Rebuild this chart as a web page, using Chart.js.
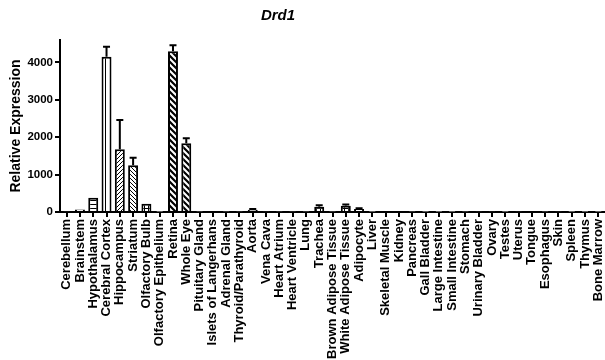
<!DOCTYPE html>
<html>
<head>
<meta charset="utf-8">
<script src="https://cdn.jsdelivr.net/npm/chart.js@4/dist/chart.umd.min.js"></script>
<style>
  html, body { margin: 0; padding: 0; background: #fff; }
  #wrap { width: 605px; height: 360px; }
</style>
</head>
<body>
<div id="wrap"><canvas id="chart"></canvas></div>
<script>
const tissues = ['Cerebellum', 'Brainstem', 'Hypothalamus', 'Cerebral Cortex', 'Hippocampus', 'Striatum',
    'Olfactory Bulb', 'Olfactory Epithelium', 'Retina', 'Whole Eye', 'Pituitary Gland', 'Islets of Langerhans',
    'Adrenal Gland', 'Thyroid/Parathyroid', 'Aorta', 'Vena Cava', 'Heart Atrium', 'Heart Ventricle', 'Lung',
    'Trachea', 'Brown Adipose Tissue', 'White Adipose Tissue', 'Adipocyte', 'Liver', 'Skeletal Muscle', 'Kidney',
    'Pancreas', 'Gall Bladder', 'Large Intestine', 'Small Intestine', 'Stomach', 'Urinary Bladder', 'Ovary',
    'Testes', 'Uterus', 'Tongue', 'Esophagus', 'Skin', 'Spleen', 'Thymus', 'Bone Marrow'];

const expression = [20, 70, 380, 4150, 1680, 1250, 220, 5, 4300, 1840, 8, 25,
    8, 15, 60, 20, 15, 15, 10, 140, 10, 170, 80, 5, 25, 25,
    8, 5, 5, 5, 8, 20, 20, 5, 20, 25, 10, 20, 5, 5, 5];

const errorUp = [0, 0, 0, 270, 780, 200, 0, 0, 160, 130, 0, 0,
    0, 0, 20, 0, 0, 0, 0, 40, 0, 30, 20, 0, 0, 0,
    0, 0, 0, 0, 0, 0, 0, 0, 0, 0, 0, 0, 0, 0, 0];

// fill style per bar
const fills = ['plain', 'plain', 'hlines', 'vlines', 'thinUp', 'thinDown', 'grid', 'plain', 'thickDown', 'thickDown', 'plain', 'plain',
    'plain', 'plain', 'plain', 'plain', 'plain', 'plain', 'plain', 'grid', 'plain', 'grid', 'hlines', 'plain', 'plain', 'plain',
    'plain', 'plain', 'plain', 'plain', 'plain', 'plain', 'plain', 'plain', 'plain', 'plain', 'plain', 'plain', 'plain', 'plain', 'plain'];

const yTicks = [0, 1000, 2000, 3000, 4000];

function makePattern(kind) {
    if (kind === 'plain') return '#ffffff';
    const c = document.createElement('canvas');
    const s = (kind === 'thickDown') ? 6 : 4;
    c.width = s; c.height = s;
    const g = c.getContext('2d');
    g.fillStyle = '#fff';
    g.fillRect(0, 0, s, s);
    g.strokeStyle = '#000';
    g.fillStyle = '#000';
    if (kind === 'hlines') {
        g.fillRect(0, 0, s, 1);
    } else if (kind === 'vlines') {
        c.width = 5; c.height = 4;
        g.fillStyle = '#fff'; g.fillRect(0, 0, 5, 4);
        g.fillStyle = '#000'; g.fillRect(0, 0, 1, 4);
    } else if (kind === 'grid') {
        g.fillRect(0, 0, s, 1);
        g.fillRect(0, 0, 1, s);
    } else {
        g.lineWidth = kind === 'thickDown' ? 2.2 : 1;
        g.beginPath();
        if (kind === 'thinUp') {
            g.moveTo(-1, s + 1); g.lineTo(s + 1, -1);
            g.moveTo(-1, 1); g.lineTo(1, -1);
            g.moveTo(s - 1, s + 1); g.lineTo(s + 1, s - 1);
        } else {
            g.moveTo(-1, -1); g.lineTo(s + 1, s + 1);
            g.moveTo(s - 1, -1); g.lineTo(s + 1, 1);
            g.moveTo(-1, s - 1); g.lineTo(1, s + 1);
        }
        g.stroke();
    }
    return g.createPattern(c, 'repeat');
}

const errorBars = {
    id: 'errorBars',
    afterDatasetsDraw(chart) {
        const ctx = chart.ctx;
        const meta = chart.getDatasetMeta(0);
        const y = chart.scales.y;
        ctx.save();
        ctx.strokeStyle = '#000';
        ctx.lineWidth = 2;
        meta.data.forEach((bar, i) => {
            if (!errorUp[i]) return;
            const top = y.getPixelForValue(expression[i]);
            const cap = y.getPixelForValue(expression[i] + errorUp[i]);
            ctx.beginPath();
            ctx.moveTo(bar.x, top);
            ctx.lineTo(bar.x, cap);
            ctx.moveTo(bar.x - 3.5, cap);
            ctx.lineTo(bar.x + 3.5, cap);
            ctx.stroke();
        });
        ctx.restore();
    }
};

const titleText = {
    id: 'titleText',
    afterDraw(chart) {
        const ctx = chart.ctx;
        ctx.save();
        ctx.font = 'italic bold 15px "Liberation Sans", Arial, sans-serif';
        ctx.fillStyle = '#000';
        ctx.textAlign = 'center';
        ctx.textBaseline = 'middle';
        ctx.fillText('Drd1', 278, 16);
        ctx.restore();
    }
};

const ctx = document.getElementById('chart').getContext('2d');
new Chart(ctx, {
    type: 'bar',
    data: {
        labels: tissues,
        datasets: [{
            data: expression,
            backgroundColor: fills.map(makePattern),
            borderColor: '#000',
            borderWidth: 2,
            borderSkipped: 'bottom',
            barPercentage: 0.75,
            categoryPercentage: 1
        }]
    },
    options: {
        responsive: true,
        maintainAspectRatio: false,
        animation: false,
        layout: { padding: { top: 40, right: 0, left: 0, bottom: 0 } },
        plugins: {
            legend: { display: false },
            title: { display: false },
            tooltip: { enabled: false }
        },
        scales: {
            x: {
                offset: true,
                grid: { display: true, drawOnChartArea: false, drawTicks: true, tickLength: 5, color: '#000', lineWidth: 2, offset: false },
                border: { color: '#000', width: 2 },
                ticks: {
                    autoSkip: false,
                    maxRotation: 90,
                    minRotation: 90,
                    padding: 2,
                    color: '#000',
                    font: { family: '"Liberation Sans", Arial, sans-serif', size: 13, weight: 'bold' }
                },
                afterFit(scale) {
                    scale.height = 148;
                    scale.paddingLeft = 0;
                    scale.paddingRight = 0;
                }
            },
            y: {
                min: 0,
                max: 4600,
                grid: { display: true, drawOnChartArea: false, drawTicks: true, tickLength: 5, color: '#000', lineWidth: 2 },
                border: { color: '#000', width: 2 },
                afterBuildTicks(scale) { scale.ticks = yTicks.map(v => ({ value: v })); },
                ticks: {
                    padding: 2,
                    color: '#000',
                    callback: v => String(v),
                    font: { family: '"Liberation Sans", Arial, sans-serif', size: 11.5, weight: 'bold' }
                },
                title: {
                    display: true,
                    text: 'Relative Expression',
                    color: '#000',
                    padding: { top: 8, bottom: 0 },
                    font: { family: '"Liberation Sans", Arial, sans-serif', size: 14, weight: 'bold' }
                },
                afterFit(scale) { scale.width = 60; }
            }
        }
    },
    plugins: [errorBars, titleText]
});
</script>
</body>
</html>
